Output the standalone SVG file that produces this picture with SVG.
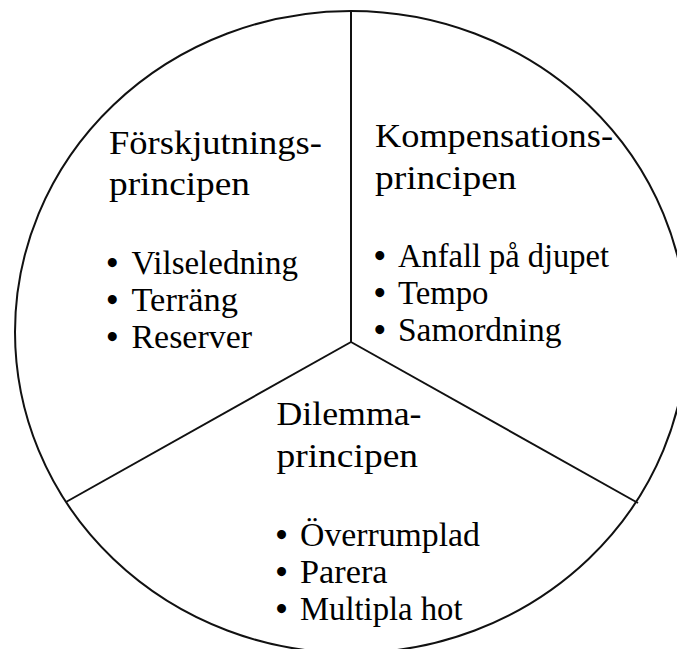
<svg xmlns="http://www.w3.org/2000/svg" width="677" height="649" viewBox="0 0 677 649">
  <style>
    .t { font-family: "Liberation Serif", "DejaVu Serif", serif; font-size: 33px; fill: #000; }
    .bu { font-weight: bold; }
    .ln { stroke: #111; stroke-width: 2; fill: none; }
  </style>
  <rect width="677" height="649" fill="#fff"/>
  <g id="circle">
    <ellipse class="ln" cx="351" cy="332" rx="336" ry="321"/>
  </g>
  <g id="connectors">
    <line class="ln" x1="351" y1="11" x2="351" y2="342"/>
    <line class="ln" x1="351" y1="342" x2="66" y2="502"/>
    <line class="ln" x1="351" y1="342" x2="638" y2="503"/>
  </g>
  <g id="forskjutning">
    <text class="t" x="109" y="154" textLength="213" lengthAdjust="spacingAndGlyphs">Förskjutnings-</text>
    <text class="t" x="109" y="195" textLength="141" lengthAdjust="spacingAndGlyphs">principen</text>
    <text class="t" y="274"><tspan class="bu" x="106.5">•</tspan><tspan x="131.5" textLength="166.5" lengthAdjust="spacingAndGlyphs">Vilseledning</tspan></text>
    <text class="t" y="311"><tspan class="bu" x="106.5">•</tspan><tspan x="131.5" textLength="106.5" lengthAdjust="spacingAndGlyphs">Terräng</tspan></text>
    <text class="t" y="348"><tspan class="bu" x="106.5">•</tspan><tspan x="131.5" textLength="120.5" lengthAdjust="spacingAndGlyphs">Reserver</tspan></text>
  </g>
  <g id="kompensation">
    <text class="t" x="375" y="147" textLength="238" lengthAdjust="spacingAndGlyphs">Kompensations-</text>
    <text class="t" x="375" y="189" textLength="141.5" lengthAdjust="spacingAndGlyphs">principen</text>
    <text class="t" y="267"><tspan class="bu" x="374">•</tspan><tspan x="398" textLength="211" lengthAdjust="spacingAndGlyphs">Anfall på djupet</tspan></text>
    <text class="t" y="304"><tspan class="bu" x="374">•</tspan><tspan x="398" textLength="90.5" lengthAdjust="spacingAndGlyphs">Tempo</tspan></text>
    <text class="t" y="341"><tspan class="bu" x="374">•</tspan><tspan x="398" textLength="163.5" lengthAdjust="spacingAndGlyphs">Samordning</tspan></text>
  </g>
  <g id="dilemma">
    <text class="t" x="276.5" y="425" textLength="145" lengthAdjust="spacingAndGlyphs">Dilemma-</text>
    <text class="t" x="276.5" y="466.5" textLength="141.5" lengthAdjust="spacingAndGlyphs">principen</text>
    <text class="t" y="546"><tspan class="bu" x="275.8">•</tspan><tspan x="300" textLength="180" lengthAdjust="spacingAndGlyphs">Överrumplad</tspan></text>
    <text class="t" y="583"><tspan class="bu" x="275.8">•</tspan><tspan x="300" textLength="87.5" lengthAdjust="spacingAndGlyphs">Parera</tspan></text>
    <text class="t" y="620"><tspan class="bu" x="275.8">•</tspan><tspan x="300" textLength="162.5" lengthAdjust="spacingAndGlyphs">Multipla hot</tspan></text>
  </g>
</svg>
